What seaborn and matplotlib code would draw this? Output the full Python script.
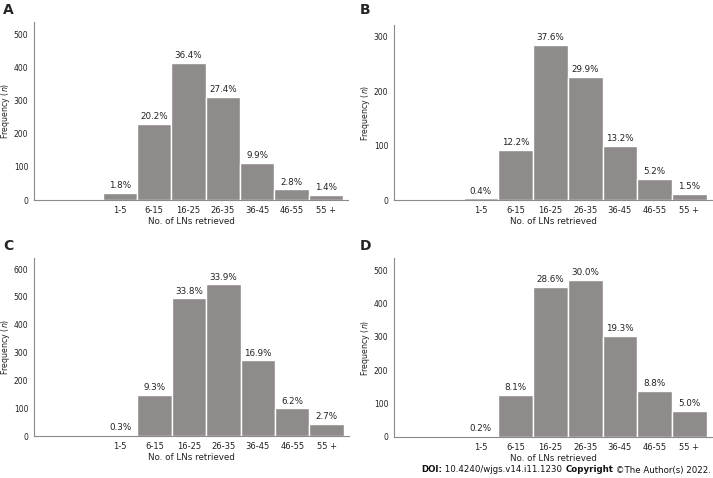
import numpy as np
import pandas as pd
import matplotlib
matplotlib.use("Agg")
import matplotlib.pyplot as plt
import seaborn as sns

groups = ["1-5", "6-15", "16-25", "26-35", "36-45", "46-55", "55 +"]
# two empty slots sit left of the first bar in every panel
slots = ["_e1", "_e2"] + groups

freq_A = [21, 230, 414, 312, 113, 32, 16]
freq_B = [3, 92, 285, 227, 100, 39, 11]
freq_C = [5, 149, 495, 545, 272, 99, 43]
freq_D = [3, 127, 449, 471, 303, 138, 79]

pct_A = ["1.8%", "20.2%", "36.4%", "27.4%", "9.9%", "2.8%", "1.4%"]
pct_B = ["0.4%", "12.2%", "37.6%", "29.9%", "13.2%", "5.2%", "1.5%"]
pct_C = ["0.3%", "9.3%", "33.8%", "33.9%", "16.9%", "6.2%", "2.7%"]
pct_D = ["0.2%", "8.1%", "28.6%", "30.0%", "19.3%", "8.8%", "5.0%"]

ylims = {"A": 537, "B": 322, "C": 640, "D": 536}
yticks = {"A": range(0, 501, 100), "B": range(0, 301, 100),
          "C": range(0, 601, 100), "D": range(0, 501, 100)}

sns.set_style("white")
plt.rcParams["font.family"] = ["DejaVu Sans"]
plt.rcParams["mathtext.fontset"] = "dejavusans"

W, H = 713, 478
fig = plt.figure(figsize=(W / 100, H / 100), dpi=100)

# axes boxes in pixels: left, top, right, bottom
boxes = {"A": (34, 22, 348, 200), "B": (394, 25, 712, 200),
         "C": (34, 258, 349, 436), "D": (394, 258, 712, 437)}
letters = {"A": (3, 10), "B": (360, 10), "C": (3, 246), "D": (360, 246)}
panels = {"A": (freq_A, pct_A), "B": (freq_B, pct_B),
          "C": (freq_C, pct_C), "D": (freq_D, pct_D)}

bar_color = "#8f8b8a"
axis_color = "#8a8a8a"
txt = "#222222"

for key, (freq, pct) in panels.items():
    l, t, r, b = boxes[key]
    ax = fig.add_axes([l / W, 1 - b / H, (r - l) / W, (b - t) / H])
    df = pd.DataFrame({"group": groups, "n": freq})
    sns.barplot(data=df, x="group", y="n", order=slots, color=bar_color,
                saturation=1, width=1.0, edgecolor="white", linewidth=1.0, ax=ax)
    ax.bar_label(ax.containers[0], labels=pct, padding=2, fontsize=6.3, color=txt)
    ax.set_xlim(-0.5, len(slots) - 0.5 + 0.15)
    ax.set_ylim(0, ylims[key])
    ax.set_yticks(list(yticks[key]))
    ax.set_xticks(range(len(slots)))
    ax.set_xticklabels(["", ""] + groups)
    ax.tick_params(axis="x", length=0, labelsize=6.0, pad=4, colors=txt)
    ax.tick_params(axis="y", length=0, labelsize=5.5, pad=4, colors=txt)
    ax.set_xlabel("No. of LNs retrieved", fontsize=6.3, labelpad=2, color=txt)
    ax.set_ylabel("Frequency ($\\it{n}$)", fontsize=5.7, color=txt)
    # right edge of the rotated label sits ~22 px left of the axis line
    ax.yaxis.set_label_coords(-22 / (r - l), 0.5)
    for s in ["top", "right"]:
        ax.spines[s].set_visible(False)
    for s in ["left", "bottom"]:
        ax.spines[s].set_color(axis_color)
        ax.spines[s].set_linewidth(0.8)
    lx, ly = letters[key]
    fig.text(lx / W, 1 - ly / H, key, fontsize=10, fontweight="bold", va="center", ha="left")

# citation line at bottom right, right-aligned to the figure edge
parts = [("DOI:", "bold"), (" 10.4240/wjgs.v14.i11.1230 ", "normal"),
         ("Copyright", "bold"), (" \u00a9The Author(s) 2022.", "normal")]
y_cit = 1 - 470 / H
texts = [fig.text(0, y_cit, s, fontsize=6.2, fontweight=w, va="center", color="#111111")
         for s, w in parts]
fig.canvas.draw()
rend = fig.canvas.get_renderer()
widths = [t.get_window_extent(rend).width / W for t in texts]
x = 711 / W - sum(widths)
for t, w in zip(texts, widths):
    t.set_x(x)
    x += w

fig.savefig("out.png", dpi=100)
